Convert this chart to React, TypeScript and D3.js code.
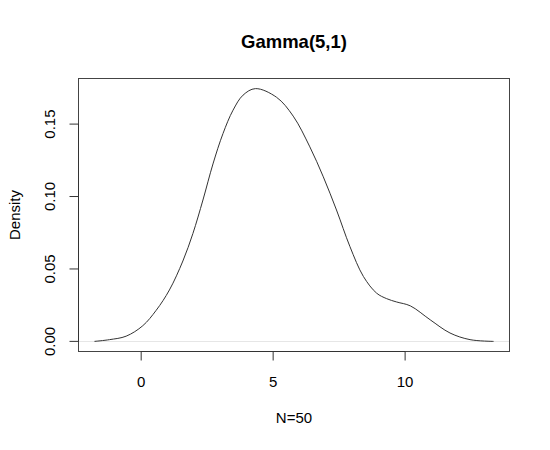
import React from "react";
import * as d3 from "d3";

const title = "Gamma(5,1)";
const xLabel = "N=50";
const yLabel = "Density";
const xTicks = [0, 5, 10];
const yTicks = [0, 0.05, 0.1, 0.15];
const yTickLabels = ["0.00", "0.05", "0.10", "0.15"];

const densX = [-1.77, -1.2, -0.57, 0.06, 0.57, 1.07, 1.58, 1.96, 2.34, 2.72, 3.1, 3.48, 3.86, 4.33, 5.13, 5.76, 6.39, 6.9, 7.4, 7.91, 8.42, 8.92, 9.3, 9.68, 10.2, 10.95, 11.7, 12.46, 13.35];
const densY = [0.0, 0.0012, 0.0036, 0.0108, 0.0215, 0.0355, 0.0555, 0.0745, 0.0976, 0.1225, 0.1435, 0.1596, 0.1700, 0.1745, 0.1685, 0.1555, 0.1343, 0.1136, 0.0907, 0.0654, 0.0448, 0.0333, 0.0295, 0.0272, 0.0245, 0.0149, 0.0058, 0.0012, 0.0];

export default function App() {
  const W = 550, H = 450;
  const left = 78.5, right = 509.5, top = 78.5, bottom = 351.5;
  const xmin = d3.min(densX)!, xmax = d3.max(densX)!;
  const xr = xmax - xmin;
  const ymax = d3.max(densY)!;
  const x = d3.scaleLinear().domain([xmin - 0.04 * xr, xmax + 0.04 * xr]).range([left, right]);
  const y = d3.scaleLinear().domain([-0.04 * ymax, ymax * 1.04]).range([bottom, top]);
  const pts: [number, number][] = densX.map((d, i) => [d, densY[i]]);
  const line = d3.line<[number, number]>().x(d => x(d[0])).y(d => y(d[1])).curve(d3.curveCatmullRom.alpha(0.5));
  const font = "Liberation Sans, Arial, Helvetica, sans-serif";
  const tk = 9;
  return (
    <svg width={W} height={H} style={{ position: "absolute", left: 0, top: 0, background: "#fff" }} fontFamily={font}>
      <rect x={0} y={0} width={W} height={H} fill="#fff" />
      <text x={(left + right) / 2} y={48} textAnchor="middle" fontSize={18.5} fontWeight="bold">{title}</text>
      <line x1={left} x2={right} y1={Math.round(y(0)) + 0.5} y2={Math.round(y(0)) + 0.5} stroke="#e6e6e6" strokeWidth={1} />
      <path d={line(pts) ?? ""} fill="none" stroke="#333" strokeWidth={1} />
      <rect x={left} y={top} width={right - left} height={bottom - top} fill="none" stroke="#444" strokeWidth={1} />
      {/* x axis */}
      <line x1={x(xTicks[0])} x2={x(xTicks[xTicks.length - 1])} y1={bottom} y2={bottom} stroke="#333" />
      {xTicks.map(t => (
        <g key={t}>
          <line x1={x(t)} x2={x(t)} y1={bottom} y2={bottom + tk} stroke="#333" />
          <text x={x(t)} y={387} textAnchor="middle" fontSize={15}>{t}</text>
        </g>
      ))}
      {/* y axis */}
      <line x1={left} x2={left} y1={y(yTicks[0])} y2={y(yTicks[yTicks.length - 1])} stroke="#333" />
      {yTicks.map((t, i) => (
        <g key={t}>
          <line x1={left - tk} x2={left} y1={y(t)} y2={y(t)} stroke="#333" />
          <text transform={`translate(55,${y(t)}) rotate(-90)`} textAnchor="middle" fontSize={15}>{yTickLabels[i]}</text>
        </g>
      ))}
      <text x={(left + right) / 2} y={423} textAnchor="middle" fontSize={15}>{xLabel}</text>
      <text transform={`translate(19.5,${(top + bottom) / 2}) rotate(-90)`} textAnchor="middle" fontSize={15}>{yLabel}</text>
    </svg>
  );
}
